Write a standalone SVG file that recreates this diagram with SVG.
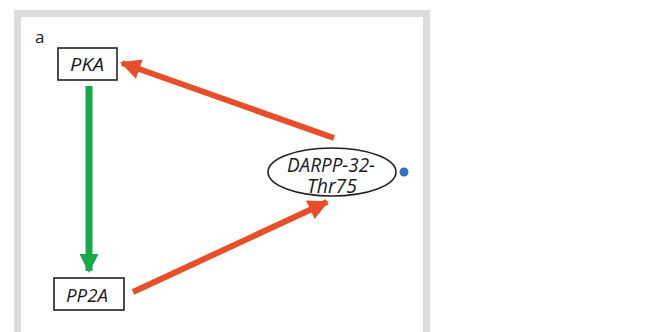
<svg xmlns="http://www.w3.org/2000/svg" width="657" height="332" viewBox="0 0 657 332">
  <defs>
    <style>
      .lbl { font-family: "Open Sans", "Noto Sans", "Liberation Sans", sans-serif; font-style: italic; fill: #1a1a1a; }
      .box { fill: #ffffff; stroke: #222222; stroke-width: 1.6; }
      .red { stroke: #e84e2a; stroke-width: 6; fill: none; }
      .green { stroke: #17a84b; stroke-width: 7; fill: none; }
    </style>
    <marker id="headRed" viewBox="0 0 10 10" refX="9" refY="5" markerWidth="3.8" markerHeight="3.4" orient="auto" markerUnits="strokeWidth">
      <path d="M0,0 L10,5 L0,10 Z" fill="#e84e2a"/>
    </marker>
    <marker id="headGreen" viewBox="0 0 10 10" refX="9" refY="5" markerWidth="2.8" markerHeight="2.7" orient="auto" markerUnits="strokeWidth">
      <path d="M0,0 L10,5 L0,10 Z" fill="#17a84b"/>
    </marker>
  </defs>

  <rect width="657" height="332" fill="#ffffff"/>
  <!-- panel frame -->
  <rect x="17.5" y="13.5" width="409" height="330" fill="#ffffff" stroke="#dcdcdc" stroke-width="7"/>
  <text x="35" y="43" class="lbl" style="font-style:normal" font-size="17">a</text>

  <g id="connectors">
    <line class="green" x1="89" y1="86" x2="89" y2="271" marker-end="url(#headGreen)"/>
    <line class="red" x1="334" y1="138" x2="122" y2="63" marker-end="url(#headRed)"/>
    <line class="red" x1="133" y1="292" x2="327" y2="202" marker-end="url(#headRed)"/>
  </g>

  <g id="pka">
    <rect class="box" x="58" y="48" width="59" height="32"/>
    <text x="70" y="71" class="lbl" font-size="19" textLength="34" lengthAdjust="spacingAndGlyphs">PKA</text>
  </g>

  <g id="pp2a">
    <rect class="box" x="54" y="278" width="70" height="32"/>
    <text x="66" y="302" class="lbl" font-size="19" textLength="42" lengthAdjust="spacingAndGlyphs">PP2A</text>
  </g>

  <g id="darpp32">
    <ellipse cx="332" cy="172" rx="64" ry="24" fill="#ffffff" stroke="#222222" stroke-width="1.6"/>
    <text class="lbl" font-size="20">
      <tspan x="287" y="172" textLength="88" lengthAdjust="spacingAndGlyphs">DARPP-32-</tspan>
      <tspan x="307" y="193" textLength="50" lengthAdjust="spacingAndGlyphs">Thr75</tspan>
    </text>
    <circle cx="404" cy="172" r="4.5" fill="#2f6fc4"/>
  </g>
</svg>
